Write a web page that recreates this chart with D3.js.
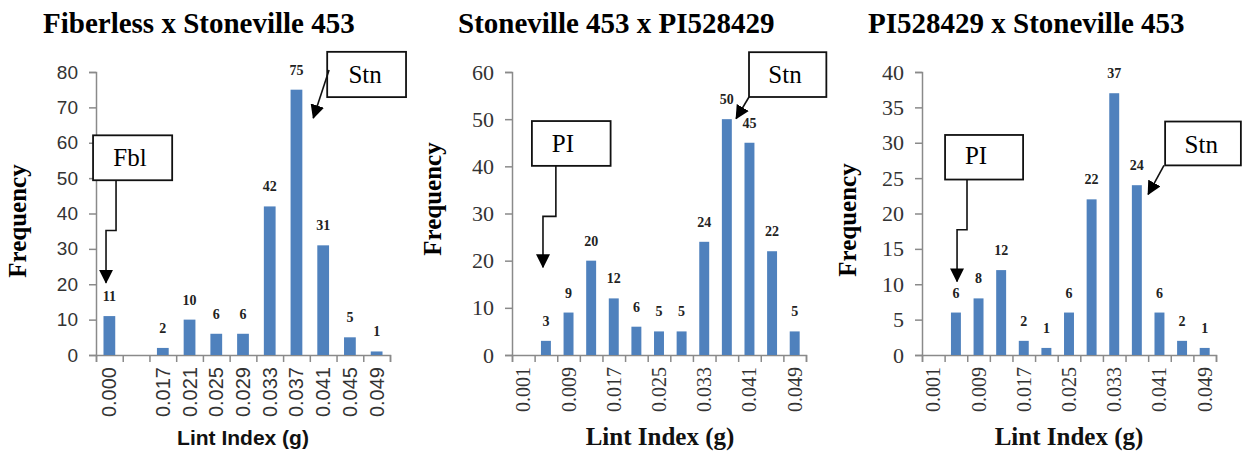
<!DOCTYPE html>
<html>
<head>
<meta charset="utf-8">
<script src="https://cdn.jsdelivr.net/npm/d3@7"></script>
<style>
  body { margin: 0; background: #fff; }
  text { fill: #222; }
</style>
</head>
<body>
<svg id="chart" width="1245" height="453"></svg>
<script>
// chart titles
var titles = ["Fiberless x Stoneville 453", "Stoneville 453 x PI528429", "PI528429 x Stoneville 453"]

// category tick labels (blank = unlabelled class)
var fbTicks = ["0.000", "", "0.017", "0.021", "0.025", "0.029", "0.033", "0.037", "0.041", "0.045", "0.049"]
var spTicks = ["0.001", "", "0.009", "", "0.017", "", "0.025", "", "0.033", "", "0.041", "", "0.049"]
var psTicks = ["0.001", "", "0.009", "", "0.017", "", "0.025", "", "0.033", "", "0.041", "", "0.049"]

// frequencies
var fbFreq = [11, 0, 2, 10, 6, 6, 42, 75, 31, 5, 1]
var spFreq = [0, 3, 9, 20, 12, 6, 5, 5, 24, 50, 45, 22, 5]
var psFreq = [0, 6, 8, 12, 2, 1, 6, 22, 37, 24, 6, 2, 1]

var yMaxes = [80, 60, 40]
var ySteps = [10, 10, 5]

// parent callouts, in (class index, frequency) units
var fbNotes = [
    {label: "Fbl", box: [-0.11, 62.1, 2.85, 49.4], text: [1.27, 53.3], path: [[0.75, 49.4], [0.75, 35.2], [0.375, 35.2], [0.375, 20.4]]},
    {label: "Stn", box: [8.65, 85.7, 11.6, 72.9], text: [10.07, 76.9], path: [[8.72, 80.6], [8.13, 67.0]]}
]
var spNotes = [
    {label: "PI", box: [0.88, 49.6, 4.36, 40.1], text: [2.25, 43.1], path: [[1.94, 40.1], [1.94, 29.4], [1.37, 29.4], [1.37, 18.6]]},
    {label: "Stn", box: [10.48, 64.2, 13.9, 54.7], text: [12.07, 57.6], path: [[10.48, 54.7], [9.91, 50.1]]}
]
var psNotes = [
    {label: "PI", box: [1.02, 31.1, 4.47, 24.8], text: [2.39, 27.0], path: [[1.99, 24.8], [1.99, 17.7], [1.55, 17.7], [1.55, 10.4]]},
    {label: "Stn", box: [10.75, 33.0, 14.1, 26.8], text: [12.35, 28.5], path: [[10.7, 26.8], [10.0, 22.7]]}
]

var serif = "'Liberation Serif', 'Times New Roman', serif"
var sans = "'Liberation Sans', Arial, sans-serif"

var panels = [
    {ox: 0, left: 96, title: titles[0], ticks: fbTicks, freq: fbFreq, yMax: yMaxes[0], yStep: ySteps[0], notes: fbNotes,
     yFont: sans, ySize: 19, xFont: sans, xTitleFont: sans, xTitleSize: 21, yTitleY: 221, xTitleX: 243, titleX: 43},
    {ox: 415, left: 97, title: titles[1], ticks: spTicks, freq: spFreq, yMax: yMaxes[1], yStep: ySteps[1], notes: spNotes,
     yFont: serif, ySize: 22, xFont: serif, xTitleFont: serif, xTitleSize: 25, yTitleY: 199, xTitleX: 245, titleX: 43},
    {ox: 830, left: 92, title: titles[2], ticks: psTicks, freq: psFreq, yMax: yMaxes[2], yStep: ySteps[2], notes: psNotes,
     yFont: serif, ySize: 22, xFont: serif, xTitleFont: serif, xTitleSize: 25, yTitleY: 220, xTitleX: 239, titleX: 38}
]

var plotW = 294, plotTop = 72, plotBottom = 355
var axisColor = "#8a8a8a"
var barColor = "#4f81bd"

var svg = d3.select("#chart")

svg.append("defs").append("marker")
    .attr("id", "arrow")
    .attr("markerUnits", "userSpaceOnUse")
    .attr("markerWidth", 14).attr("markerHeight", 14)
    .attr("viewBox", "0 0 14 14")
    .attr("refX", 13).attr("refY", 7)
    .attr("orient", "auto")
    .append("path")
    .attr("d", "M0,0 L14,7 L0,14 Z")
    .attr("fill", "#000")

panels.forEach(function(p) {
    var g = svg.append("g").attr("transform", "translate(" + p.ox + ",0)")
    var n = p.freq.length

    var x = d3.scaleBand().domain(d3.range(n)).range([p.left, p.left + plotW]).padding(0)
    var xi = d3.scaleLinear().domain([0, n]).range([p.left, p.left + plotW])   // class index -> px
    var y = d3.scaleLinear().domain([0, p.yMax]).range([plotBottom, plotTop])

    // title
    g.append("text")
        .attr("x", p.titleX).attr("y", 33)
        .style("font-family", serif).style("font-weight", "bold").style("font-size", "29px")
        .style("fill", "#000")
        .text(p.title)

    // y axis
    var yAxis = d3.axisLeft(y).tickValues(d3.range(0, p.yMax + 1, p.yStep)).tickSize(7).tickPadding(11)
    var ya = g.append("g").attr("transform", "translate(" + p.left + ",0)").call(yAxis)
    ya.select(".domain").attr("stroke", axisColor).attr("stroke-width", 1.5)
    ya.selectAll(".tick line").attr("stroke", axisColor).attr("stroke-width", 1.5)
    ya.selectAll(".tick text").style("font-family", p.yFont).style("font-size", p.ySize + "px").style("fill", "#333")

    // x axis: ticks at class boundaries
    var xAxis = d3.axisBottom(xi).tickValues(d3.range(n + 1)).tickSize(7).tickFormat("")
    var xa = g.append("g").attr("transform", "translate(0," + plotBottom + ")").call(xAxis)
    xa.select(".domain").attr("stroke", axisColor).attr("stroke-width", 1.5)
    xa.selectAll(".tick line").attr("stroke", axisColor).attr("stroke-width", 1.5)

    // x labels, rotated
    g.selectAll(".xlab").data(p.ticks).enter().append("text")
        .attr("class", "xlab")
        .attr("transform", function(d, i) { return "translate(" + (x(i) + x.bandwidth() / 2) + ",367) rotate(-90)" })
        .attr("dy", "0.35em")
        .attr("text-anchor", "end")
        .style("font-family", p.xFont).style("font-size", "20px").style("fill", "#333")
        .text(function(d) { return d })

    // axis titles
    g.append("text")
        .attr("transform", "translate(26," + p.yTitleY + ") rotate(-90)")
        .attr("text-anchor", "middle")
        .style("font-family", serif).style("font-weight", "bold").style("font-size", "25px")
        .style("fill", "#000")
        .text("Frequency")
    g.append("text")
        .attr("x", p.xTitleX).attr("y", 445)
        .attr("text-anchor", "middle")
        .style("font-family", p.xTitleFont).style("font-weight", "bold").style("font-size", p.xTitleSize + "px")
        .style("fill", "#111")
        .text("Lint Index (g)")

    // bars
    var bw = x.bandwidth() * 0.44
    g.selectAll(".bar").data(p.freq).enter().append("rect")
        .attr("class", "bar")
        .attr("x", function(d, i) { return x(i) + (x.bandwidth() - bw) / 2 })
        .attr("y", function(d) { return y(d) })
        .attr("width", bw)
        .attr("height", function(d) { return plotBottom - y(d) })
        .attr("fill", barColor)

    // value labels (skip empty classes)
    var labelled = p.freq.map(function(d, i) { return {v: d, i: i} }).filter(function(d) { return d.v > 0 })
    g.selectAll(".val").data(labelled).enter().append("text")
        .attr("class", "val")
        .attr("x", function(d) { return x(d.i) + x.bandwidth() / 2 })
        .attr("y", function(d) { return y(d.v) - 15 })
        .attr("text-anchor", "middle")
        .style("font-family", serif).style("font-weight", "bold").style("font-size", "14px")
        .text(function(d) { return d.v })

    // callouts
    p.notes.forEach(function(note) {
        var b = note.box
        g.append("rect")
            .attr("x", xi(b[0])).attr("y", y(b[1]))
            .attr("width", xi(b[2]) - xi(b[0])).attr("height", y(b[3]) - y(b[1]))
            .attr("fill", "#fff").attr("stroke", "#111").attr("stroke-width", 1.8)
        g.append("text")
            .attr("x", xi(note.text[0])).attr("y", y(note.text[1]))
            .attr("text-anchor", "middle")
            .style("font-family", serif).style("font-size", "25px").style("fill", "#000")
            .text(note.label)
        g.append("path")
            .attr("d", d3.line().x(function(d) { return xi(d[0]) }).y(function(d) { return y(d[1]) })(note.path))
            .attr("fill", "none").attr("stroke", "#111").attr("stroke-width", 1.6)
            .attr("marker-end", "url(#arrow)")
    })
})
</script>
</body>
</html>
